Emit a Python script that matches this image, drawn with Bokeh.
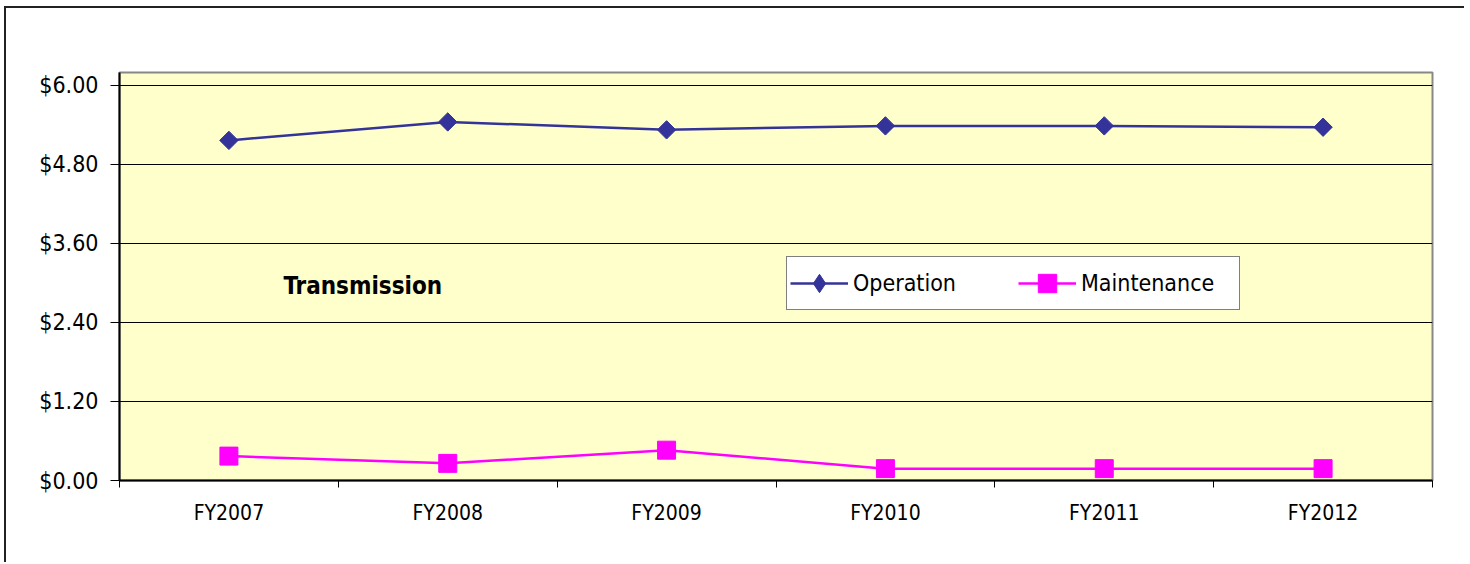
from bokeh.plotting import figure
from bokeh.models import (FactorRange, Range1d, LinearAxis, CategoricalAxis, FixedTicker,
                          Legend, LegendItem, Label)
from bokeh.embed import file_html
from bokeh.resources import INLINE
import math

categories = ["FY2007", "FY2008", "FY2009", "FY2010", "FY2011", "FY2012"]
operation = [5.16, 5.44, 5.32, 5.38, 5.38, 5.36]
maintenance = [0.37, 0.26, 0.46, 0.18, 0.18, 0.18]
y_ticks = [0.0, 1.2, 2.4, 3.6, 4.8, 6.0]
y_tick_labels = ["$0.00", "$1.20", "$2.40", "$3.60", "$4.80", "$6.00"]

FONT = "DejaVu Sans Condensed"

p = figure(width=1460, height=556, output_backend="svg", toolbar_location=None,
           x_range=FactorRange(*categories), y_range=Range1d(0, 6.19),
           x_axis_location=None, y_axis_location="left",
           min_border_left=113, min_border_top=64, min_border_right=34, min_border_bottom=84)
p.styles = {"border-left": "2px solid #222222", "border-top": "2px solid #222222",
            "margin-left": "4px", "margin-top": "6px"}

p.background_fill_color = "#FFFFCC"
p.border_fill_color = "white"
p.outline_line_color = "#888888"
p.outline_line_width = 2

# y axis
yax = p.yaxis[0]
yax.ticker = FixedTicker(ticks=y_ticks)
yax.major_label_overrides = {t: l for t, l in zip(y_ticks, y_tick_labels)}
yax.major_label_text_font = FONT
yax.major_label_text_font_size = "23px"
yax.major_label_text_color = "black"
yax.axis_line_color = "black"
yax.axis_line_width = 2
yax.major_tick_line_color = "black"
yax.major_tick_out = 9
yax.major_tick_in = 0
yax.minor_tick_line_color = None
yax.major_label_standoff = 12

p.ygrid.ticker = FixedTicker(ticks=y_ticks)
p.ygrid.grid_line_color = "black"
p.ygrid.grid_line_width = 1
p.xgrid.grid_line_color = None

# boundary tick axis
tick_axis = LinearAxis(ticker=FixedTicker(ticks=list(range(len(categories) + 1))),
                       major_label_text_font_size="0px", major_label_standoff=0,
                       axis_line_color="black", axis_line_width=2,
                       major_tick_line_color="black", major_tick_out=7, major_tick_in=0,
                       minor_tick_line_color=None)
tick_axis.major_label_overrides = {i: "" for i in range(len(categories) + 1)}
p.add_layout(tick_axis, "below")

cat_axis = CategoricalAxis(axis_line_color=None, major_tick_line_color=None,
                           minor_tick_line_color=None,
                           major_label_text_font=FONT, major_label_text_font_size="21px",
                           major_label_text_color="black", major_label_standoff=7)
p.add_layout(cat_axis, "below")

op_line = p.line(categories, operation, line_color="#333399", line_width=2.5)
op_marker = p.scatter(categories, operation, marker="square", angle=math.pi / 4, size=13,
                      fill_color="#333399", line_color="#333399")
mt_line = p.line(categories, maintenance, line_color="#FF00FF", line_width=2.5)
mt_marker = p.scatter(categories, maintenance, marker="square", size=18,
                      fill_color="#FF00FF", line_color="#FF00FF")
# legend-only diamond (a single point with no value, so nothing is drawn in the plot)
op_legend_marker = p.scatter(x=categories[:1], y=[float("nan")], marker="diamond", size=18,
                             fill_color="#333399", line_color="#333399")

legend = Legend(items=[LegendItem(label="Operation", renderers=[op_line, op_legend_marker]),
                       LegendItem(label="Maintenance", renderers=[mt_line, mt_marker])],
                orientation="horizontal", location=(667, 170),
                glyph_width=58, glyph_height=46, padding=3, spacing=10,
                label_width=155, label_standoff=5,
                label_text_font=FONT, label_text_font_size="23px", label_text_color="black",
                border_line_color="black", border_line_width=1,
                background_fill_color="white", background_fill_alpha=1,
                margin=0)
p.add_layout(legend, "center")

p.add_layout(Label(x=0.749, y=2.95, text="Transmission", text_font=FONT,
                   text_font_size="24px", text_font_style="bold", text_color="black",
                   text_align="left", text_baseline="middle"))

open("out.html", "w").write(file_html(p, INLINE))
